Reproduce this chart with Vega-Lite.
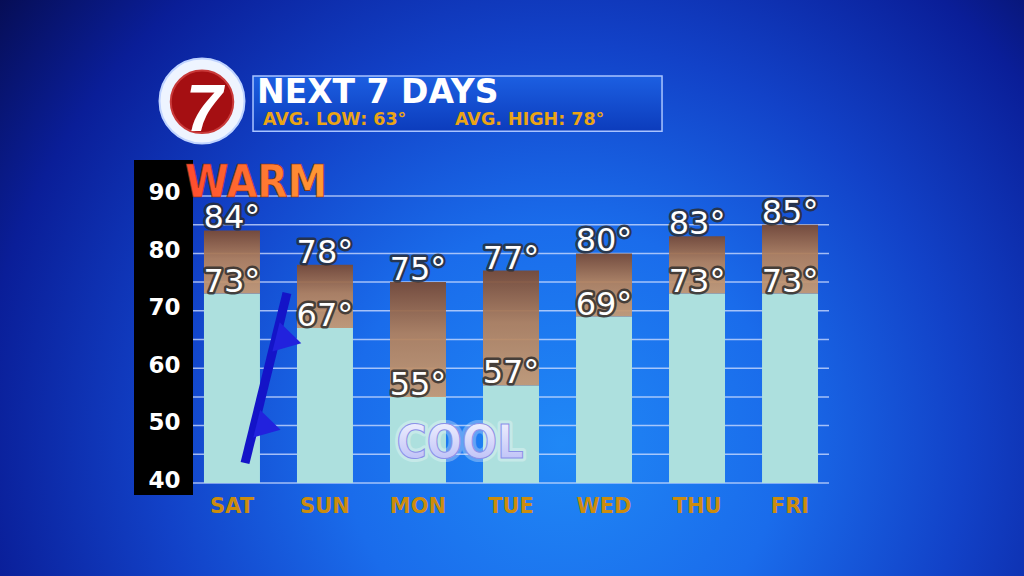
{
  "$schema": "https://vega.github.io/schema/vega-lite/v6.json",
  "width": 636,
  "height": 335,
  "autosize": {"type": "none"},
  "padding": {"left": 193, "top": 160, "right": 195, "bottom": 81},
  "background": "#0d2a9e",
  "config": {"view": {"stroke": null}},
  "data": {
    "values": [
      {"day": "SAT", "hi": 84, "lo": 73, "hiText": "84°", "loText": "73°"},
      {"day": "SUN", "hi": 78, "lo": 67, "hiText": "78°", "loText": "67°"},
      {"day": "MON", "hi": 75, "lo": 55, "hiText": "75°", "loText": "55°"},
      {"day": "TUE", "hi": 77, "lo": 57, "hiText": "77°", "loText": "57°"},
      {"day": "WED", "hi": 80, "lo": 69, "hiText": "80°", "loText": "69°"},
      {"day": "THU", "hi": 83, "lo": 73, "hiText": "83°", "loText": "73°"},
      {"day": "FRI", "hi": 85, "lo": 73, "hiText": "85°", "loText": "73°"}
    ]
  },
  "resolve": {"scale": {"x": "independent"}, "axis": {"x": "independent", "y": "independent"}},
  "layer": [
    {
      "data": {"values": [{}]},
      "mark": {
        "type": "rect",
        "fill": {
          "gradient": "radial", "x1": 0.55, "y1": 0.65, "r1": 0, "x2": 0.55, "y2": 0.65, "r2": 0.7,
          "stops": [
            {"offset": 0, "color": "#2088f6"},
            {"offset": 0.3, "color": "#1a6ceb"},
            {"offset": 0.55, "color": "#1242c8"},
            {"offset": 0.8, "color": "#0a1e98"},
            {"offset": 1, "color": "#060c50"}
          ]
        }
      },
      "encoding": {
        "x": {"datum": -2.3, "type": "quantitative", "scale": {"domain": [-0.1183, 6.7204], "nice": false, "zero": false}, "axis": null},
        "x2": {"datum": 8.9},
        "y": {"datum": 124.5, "type": "quantitative", "scale": {"domain": [37.91, 96.27], "nice": false, "zero": false}, "axis": null},
        "y2": {"datum": 23.5}
      }
    },
    {
      "data": {"values": [{}]},
      "mark": {"type": "rect", "fill": "#000000"},
      "encoding": {
        "x": {"datum": -0.7527, "type": "quantitative", "scale": {"domain": [-0.1183, 6.7204], "nice": false, "zero": false}, "axis": null},
        "x2": {"datum": -0.1183},
        "y": {"datum": 96.27, "type": "quantitative", "scale": {"domain": [37.91, 96.27], "nice": false, "zero": false}, "axis": null},
        "y2": {"datum": 37.91}
      }
    },
    {
      "data": {"values": [{"g": 40}, {"g": 45}, {"g": 50}, {"g": 55}, {"g": 60}, {"g": 65}, {"g": 70}, {"g": 75}, {"g": 80}, {"g": 85}, {"g": 90}]},
      "mark": {"type": "rule", "color": "#d4e0ff", "opacity": 0.75, "strokeWidth": 1.5},
      "encoding": {
        "y": {"field": "g", "type": "quantitative", "scale": {"domain": [37.91, 96.27], "nice": false, "zero": false}, "axis": null}
      }
    },
    {
      "data": {"values": [{}]},
      "mark": {
        "type": "rect",
        "fill": {"gradient": "linear", "x1": 0, "y1": 0, "x2": 0, "y2": 1, "stops": [{"offset": 0, "color": "#1c5fe2"}, {"offset": 1, "color": "#0c3cbc"}]},
        "stroke": "#a9c4ff",
        "strokeWidth": 1.5
      },
      "encoding": {
        "x": {"datum": 0.527, "type": "quantitative", "scale": {"domain": [-0.1183, 6.7204], "nice": false, "zero": false}, "axis": null},
        "x2": {"datum": 4.925},
        "y": {"datum": 110.9, "type": "quantitative", "scale": {"domain": [37.91, 96.27], "nice": false, "zero": false}, "axis": null},
        "y2": {"datum": 101.3}
      }
    },
    {
      "data": {"values": [{}]},
      "mark": {"type": "circle", "size": 7225, "color": "#eef4ff", "opacity": 1, "stroke": "#c0d4ff", "strokeWidth": 2},
      "encoding": {
        "x": {"datum": -0.0215, "type": "quantitative", "scale": {"domain": [-0.1183, 6.7204], "nice": false, "zero": false}, "axis": null},
        "y": {"datum": 106.55, "type": "quantitative", "scale": {"domain": [37.91, 96.27], "nice": false, "zero": false}, "axis": null}
      }
    },
    {
      "data": {"values": [{}]},
      "mark": {"type": "circle", "size": 3906, "color": "#a50f12", "opacity": 1, "stroke": "#c93a3a", "strokeWidth": 2},
      "encoding": {
        "x": {"datum": -0.0215, "type": "quantitative", "scale": {"domain": [-0.1183, 6.7204], "nice": false, "zero": false}, "axis": null},
        "y": {"datum": 106.4, "type": "quantitative", "scale": {"domain": [37.91, 96.27], "nice": false, "zero": false}, "axis": null}
      }
    },
    {
      "data": {"values": [{}]},
      "mark": {"type": "text", "text": "7", "font": "Liberation Sans", "fontSize": 66, "fontWeight": "bold", "fontStyle": "italic", "fill": "#ffffff", "align": "center", "baseline": "alphabetic"},
      "encoding": {
        "x": {"datum": 0.0, "type": "quantitative", "scale": {"domain": [-0.1183, 6.7204], "nice": false, "zero": false}, "axis": null},
        "y": {"datum": 101.3, "type": "quantitative", "scale": {"domain": [37.91, 96.27], "nice": false, "zero": false}, "axis": null}
      }
    },
    {
      "data": {"values": [{}]},
      "mark": {"type": "text", "text": "NEXT 7 DAYS", "font": "DejaVu Sans", "fontSize": 33, "fontWeight": "bold", "fill": "#ffffff", "align": "left", "baseline": "alphabetic"},
      "encoding": {
        "x": {"datum": 0.57, "type": "quantitative", "scale": {"domain": [-0.1183, 6.7204], "nice": false, "zero": false}, "axis": null},
        "y": {"datum": 106.2, "type": "quantitative", "scale": {"domain": [37.91, 96.27], "nice": false, "zero": false}, "axis": null}
      }
    },
    {
      "data": {"values": [{}]},
      "mark": {"type": "text", "text": "AVG. LOW: 63°", "font": "DejaVu Sans", "fontSize": 17.5, "fontWeight": "bold", "fill": "#eba415", "align": "left", "baseline": "alphabetic"},
      "encoding": {
        "x": {"datum": 0.634, "type": "quantitative", "scale": {"domain": [-0.1183, 6.7204], "nice": false, "zero": false}, "axis": null},
        "y": {"datum": 102.4, "type": "quantitative", "scale": {"domain": [37.91, 96.27], "nice": false, "zero": false}, "axis": null}
      }
    },
    {
      "data": {"values": [{}]},
      "mark": {"type": "text", "text": "AVG. HIGH: 78°", "font": "DejaVu Sans", "fontSize": 17.5, "fontWeight": "bold", "fill": "#eba415", "align": "left", "baseline": "alphabetic"},
      "encoding": {
        "x": {"datum": 2.699, "type": "quantitative", "scale": {"domain": [-0.1183, 6.7204], "nice": false, "zero": false}, "axis": null},
        "y": {"datum": 102.4, "type": "quantitative", "scale": {"domain": [37.91, 96.27], "nice": false, "zero": false}, "axis": null}
      }
    },
    {
      "mark": {"type": "bar", "color": "#ade0de"},
      "encoding": {
        "x": {
          "field": "day", "type": "nominal",
          "scale": {"type": "band", "domain": ["SAT", "SUN", "MON", "TUE", "WED", "THU", "FRI"], "paddingInner": 0.398, "paddingOuter": 0.118},
          "axis": {"title": null, "orient": "bottom", "zindex": 1, "labelFont": "DejaVu Sans", "labelFontWeight": "bold", "labelFontSize": 21, "labelColor": "#cc8c0e", "labelPadding": 0, "ticks": false, "domain": false, "labelAngle": 0, "grid": false}
        },
        "y": {
          "field": "lo", "type": "quantitative",
          "scale": {"domain": [37.91, 96.27], "nice": false, "zero": false},
          "axis": {
            "title": null,
            "orient": "left",
            "zindex": 1,
            "values": [40, 50, 60, 70, 80, 90],
            "labelOverlap": false,
            "domain": false,
            "ticks": false,
            "labelPadding": 13, "labelAlign": "right", "labelBaseline": "middle", "labelOffset": -3,
            "labelFont": "DejaVu Sans", "labelFontWeight": "bold", "labelFontSize": 23, "labelColor": "#ffffff",
            "grid": false
          }
        },
        "y2": {"datum": 40}
      }
    },
    {
      "mark": {
        "type": "bar",
        "opacity": 0.93,
        "fill": {"gradient": "linear", "x1": 0, "y1": 0, "x2": 0, "y2": 1, "stops": [{"offset": 0, "color": "#7a4a33"}, {"offset": 0.45, "color": "#b3815c"}, {"offset": 1, "color": "#c99c73"}]}
      },
      "encoding": {
        "x": {"field": "day", "type": "nominal", "scale": {"type": "band", "domain": ["SAT", "SUN", "MON", "TUE", "WED", "THU", "FRI"], "paddingInner": 0.398, "paddingOuter": 0.118}, "axis": null},
        "y": {"field": "hi", "type": "quantitative", "scale": {"domain": [37.91, 96.27], "nice": false, "zero": false}, "axis": null},
        "y2": {"field": "lo"}
      }
    },
    {
      "data": {"values": [{}]},
      "mark": {"type": "rule", "color": "#1414c8", "strokeWidth": 9, "strokeCap": "butt"},
      "encoding": {
        "x": {"datum": 0.441, "type": "quantitative", "scale": {"domain": [-0.1183, 6.7204], "nice": false, "zero": false}, "axis": null},
        "x2": {"datum": 0.892},
        "y": {"datum": 43.48, "type": "quantitative", "scale": {"domain": [37.91, 96.27], "nice": false, "zero": false}, "axis": null},
        "y2": {"datum": 73.1}
      }
    },
    {
      "data": {"values": [{}]},
      "mark": {"type": "point", "shape": "triangle-right", "filled": true, "size": 900, "angle": 14, "color": "#2222dd", "opacity": 1},
      "encoding": {
        "x": {"datum": 0.91, "type": "quantitative", "scale": {"domain": [-0.1183, 6.7204], "nice": false, "zero": false}, "axis": null},
        "y": {"datum": 64.9, "type": "quantitative", "scale": {"domain": [37.91, 96.27], "nice": false, "zero": false}, "axis": null}
      }
    },
    {
      "data": {"values": [{}]},
      "mark": {"type": "point", "shape": "triangle-right", "filled": true, "size": 800, "angle": 14, "color": "#2222dd", "opacity": 1},
      "encoding": {
        "x": {"datum": 0.695, "type": "quantitative", "scale": {"domain": [-0.1183, 6.7204], "nice": false, "zero": false}, "axis": null},
        "y": {"datum": 49.8, "type": "quantitative", "scale": {"domain": [37.91, 96.27], "nice": false, "zero": false}, "axis": null}
      }
    },
    {
      "data": {"values": [{}]},
      "mark": {
        "type": "text", "text": "WARM", "font": "DejaVu Sans Condensed", "fontSize": 44, "fontWeight": "bold", "align": "left", "baseline": "alphabetic",
        "fill": {"gradient": "linear", "x1": 0, "y1": 0, "x2": 1, "y2": 0, "stops": [{"offset": 0, "color": "#ff4a2e"}, {"offset": 1, "color": "#ff9c34"}]},
        "stroke": "#8a2a00", "strokeWidth": 0.6
      },
      "encoding": {
        "x": {"datum": -0.204, "type": "quantitative", "scale": {"domain": [-0.1183, 6.7204], "nice": false, "zero": false}, "axis": null},
        "y": {"datum": 89.83, "type": "quantitative", "scale": {"domain": [37.91, 96.27], "nice": false, "zero": false}, "axis": null}
      }
    },
    {
      "data": {"values": [{}]},
      "mark": {
        "type": "text", "text": "COOL", "font": "DejaVu Sans Condensed", "fontSize": 46, "fontWeight": "bold", "align": "center", "baseline": "alphabetic",
        "fill": "#ffffff", "stroke": "#ffffff", "strokeWidth": 7, "opacity": 0.3, "strokeJoin": "round"
      },
      "encoding": {
        "x": {"datum": 2.753, "type": "quantitative", "scale": {"domain": [-0.1183, 6.7204], "nice": false, "zero": false}, "axis": null},
        "y": {"datum": 44.3, "type": "quantitative", "scale": {"domain": [37.91, 96.27], "nice": false, "zero": false}, "axis": null}
      }
    },
    {
      "data": {"values": [{}]},
      "mark": {
        "type": "text", "text": "COOL", "font": "DejaVu Sans Condensed", "fontSize": 46, "fontWeight": "bold", "align": "center", "baseline": "alphabetic",
        "fill": {"gradient": "linear", "x1": 0, "y1": 0, "x2": 0, "y2": 1, "stops": [{"offset": 0, "color": "#f6f6ff"}, {"offset": 1, "color": "#b4b8f6"}]},
        "stroke": "#8c90e8", "strokeWidth": 1
      },
      "encoding": {
        "x": {"datum": 2.753, "type": "quantitative", "scale": {"domain": [-0.1183, 6.7204], "nice": false, "zero": false}, "axis": null},
        "y": {"datum": 44.3, "type": "quantitative", "scale": {"domain": [37.91, 96.27], "nice": false, "zero": false}, "axis": null}
      }
    },
    {
      "mark": {"type": "text", "font": "DejaVu Sans", "fontSize": 32, "align": "center", "baseline": "alphabetic", "dy": -2, "fill": "#2b2b2b", "stroke": "#2b2b2b", "strokeWidth": 5, "strokeJoin": "round", "opacity": 0.8},
      "encoding": {
        "x": {"field": "day", "type": "nominal", "scale": {"type": "band", "domain": ["SAT", "SUN", "MON", "TUE", "WED", "THU", "FRI"], "paddingInner": 0.398, "paddingOuter": 0.118}, "axis": null},
        "y": {"field": "hi", "type": "quantitative", "scale": {"domain": [37.91, 96.27], "nice": false, "zero": false}, "axis": null},
        "text": {"field": "hiText"}
      }
    },
    {
      "mark": {"type": "text", "font": "DejaVu Sans", "fontSize": 32, "align": "center", "baseline": "alphabetic", "dy": -2, "fill": "#2b2b2b", "stroke": "#2b2b2b", "strokeWidth": 5, "strokeJoin": "round", "opacity": 0.8},
      "encoding": {
        "x": {"field": "day", "type": "nominal", "scale": {"type": "band", "domain": ["SAT", "SUN", "MON", "TUE", "WED", "THU", "FRI"], "paddingInner": 0.398, "paddingOuter": 0.118}, "axis": null},
        "y": {"field": "lo", "type": "quantitative", "scale": {"domain": [37.91, 96.27], "nice": false, "zero": false}, "axis": null},
        "text": {"field": "loText"}
      }
    },
    {
      "mark": {"type": "text", "font": "DejaVu Sans", "fontSize": 32, "align": "center", "baseline": "alphabetic", "dy": -2, "fill": "#ffffff"},
      "encoding": {
        "x": {"field": "day", "type": "nominal", "scale": {"type": "band", "domain": ["SAT", "SUN", "MON", "TUE", "WED", "THU", "FRI"], "paddingInner": 0.398, "paddingOuter": 0.118}, "axis": null},
        "y": {"field": "hi", "type": "quantitative", "scale": {"domain": [37.91, 96.27], "nice": false, "zero": false}, "axis": null},
        "text": {"field": "hiText"}
      }
    },
    {
      "mark": {"type": "text", "font": "DejaVu Sans", "fontSize": 32, "align": "center", "baseline": "alphabetic", "dy": -2, "fill": "#ffffff"},
      "encoding": {
        "x": {"field": "day", "type": "nominal", "scale": {"type": "band", "domain": ["SAT", "SUN", "MON", "TUE", "WED", "THU", "FRI"], "paddingInner": 0.398, "paddingOuter": 0.118}, "axis": null},
        "y": {"field": "lo", "type": "quantitative", "scale": {"domain": [37.91, 96.27], "nice": false, "zero": false}, "axis": null},
        "text": {"field": "loText"}
      }
    }
  ]
}
